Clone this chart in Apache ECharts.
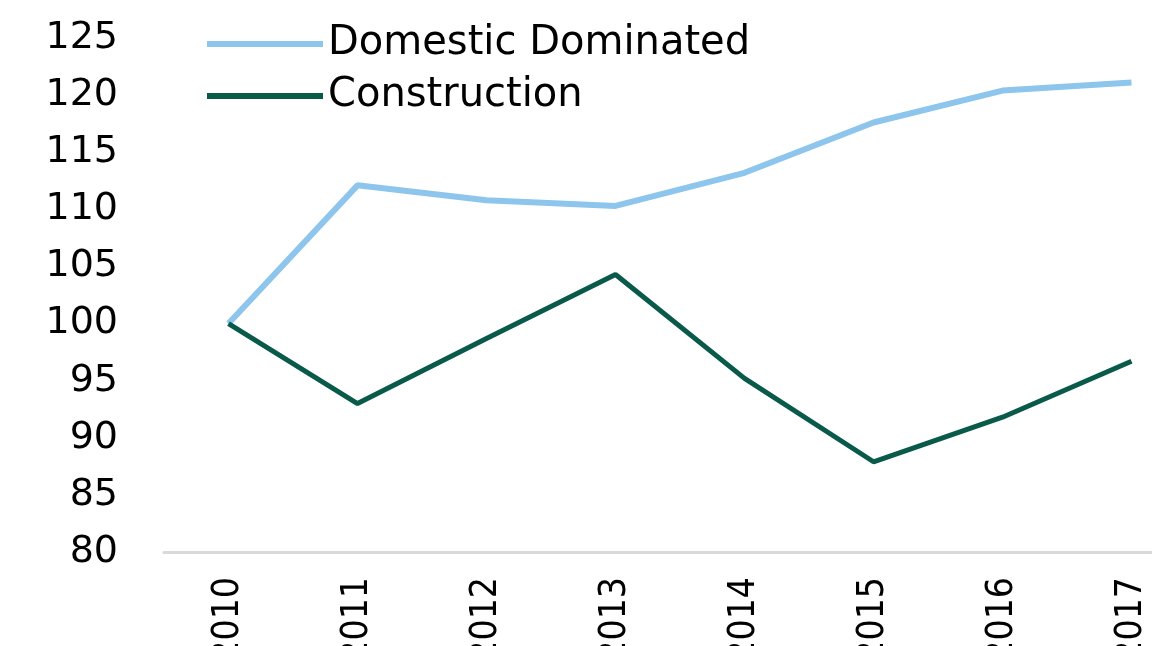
<!DOCTYPE html>
<html>
<head>
<meta charset="utf-8">
<script src="https://cdn.jsdelivr.net/npm/echarts@6/dist/echarts.min.js"></script>
<style>
  html, body { margin: 0; padding: 0; background: #fff; }
  #chart { width: 1152px; height: 646px; }
</style>
</head>
<body>
<div id="chart"></div>
<script>
// values
const years = ['2010', '2011', '2012', '2013', '2014', '2015', '2016', '2017'];
const domestic = [100, 112.1, 110.8, 110.3, 113.2, 117.6, 120.4, 121.1];
const construction = [100, 93.0, 98.7, 104.3, 95.2, 87.9, 91.8, 96.7];

const font = 'DejaVu Sans';
const narrowFont = '"DejaVu Sans Condensed", "DejaVu Sans"';

let chart = echarts.init(document.getElementById('chart'));

const option = {
    animation: false,
    grid: {
        left: 164,
        right: -44,
        top: 38,
        bottom: 94,
        containLabel: false,
        outerBoundsMode: 'none'
    },
    legend: {
        orient: 'vertical',
        left: 202,
        top: 19,
        itemWidth: 116,
        itemHeight: 6,
        itemGap: 12,
        icon: 'rect',
        textStyle: { fontFamily: font, fontSize: 40, color: '#000', padding: [0, 0, 0, 0] },
        data: ['Domestic Dominated', 'Construction']
    },
    xAxis: {
        type: 'category',
        data: years,
        boundaryGap: true,
        axisLine: { lineStyle: { color: '#D9D9D9', width: 3 } },
        axisTick: { show: false },
        axisLabel: {
            rotate: 90,
            margin: 25,
            fontFamily: narrowFont,
            fontSize: 37,
            color: '#000'
        }
    },
    yAxis: {
        type: 'value',
        min: 80,
        max: 125,
        interval: 5,
        splitLine: { show: false },
        axisLine: { show: false },
        axisTick: { show: false },
        axisLabel: {
            margin: 46,
            fontFamily: font,
            fontSize: 38,
            color: '#000'
        }
    },
    series: [
        {
            name: 'Domestic Dominated',
            type: 'line',
            data: domestic,
            symbol: 'none',
            color: '#8DC5EC',
            lineStyle: { width: 6, color: '#8DC5EC' }
        },
        {
            name: 'Construction',
            type: 'line',
            data: construction,
            symbol: 'none',
            color: '#0A5A4B',
            lineStyle: { width: 5, color: '#0A5A4B' }
        }
    ]
};

chart.setOption(option);
</script>
</body>
</html>
